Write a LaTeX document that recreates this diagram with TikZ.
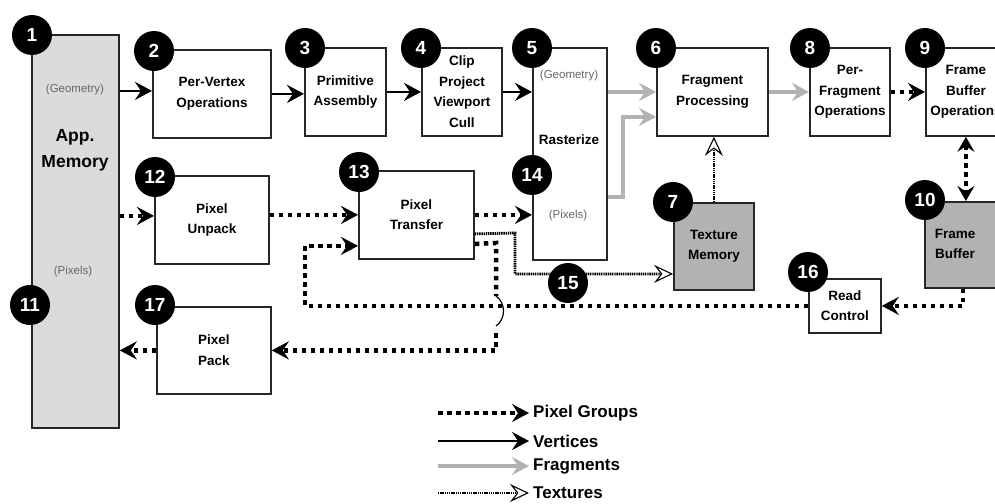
\documentclass[tikz,border=0pt]{standalone}
\usepackage{fontspec}
\setmainfont{Liberation Sans}
\usetikzlibrary{arrows.meta}
\tikzset{
 boxfont/.style={font=\bfseries\fontsize{13.5}{20.5}\selectfont},
 box/.style={draw=black!85, line width=1.8pt, fill=white, align=center, inner sep=0pt, boxfont, anchor=north west},
 graybox/.style={box, fill=black!30},
 membox/.style={box, fill=black!14},
 badge/.style={circle, fill=black, minimum size=40pt, inner sep=0pt, text=white, font=\bfseries\fontsize{19}{19}\selectfont},
 small/.style={text=black!60, font=\fontsize{11.5}{12}\selectfont},
 pixline/.style={line width=4.5pt, dash pattern=on 4.5pt off 4.5pt},
 pix/.style={pixline, -{Stealth[length=17pt,width=18pt,inset=6pt]}},
 pixboth/.style={pixline, {Stealth[length=15pt,width=17pt,inset=5.5pt]}-{Stealth[length=15pt,width=17pt,inset=5.5pt]}},
 vert/.style={line width=2.8pt, -{Stealth[length=17pt,width=18pt,inset=6pt]}},
 frag/.style={line width=3.8pt, draw=black!30, -{Stealth[length=17pt,width=18pt,inset=6pt]}},
 tex/.style={line width=2.8pt, dash pattern=on 1.4pt off 0.8pt, -{Stealth[fill=white,length=19pt,width=18pt,inset=7pt,line width=1.1pt]}},
 legfont/.style={font=\bfseries\fontsize{17}{17}\selectfont, anchor=west, inner sep=0pt},
}
\begin{document}
\begin{tikzpicture}[x=1pt,y=-1pt]
\useasboundingbox (0,0) rectangle (995,503);
\clip (0,0) rectangle (995,503);

% boxes
\node[membox, minimum width=87pt, minimum height=393pt] (b1) at (31,34) {};
\node[small] (g1) at (75,90) {(Geometry)};
\node[font=\bfseries\fontsize{17.5}{26}\selectfont, align=center] (am) at (75,150) {App.\\Memory};
\node[small] (p1) at (73,272) {(Pixels)};

\node[box, minimum width=118pt, minimum height=88pt] (b2) at (152,49) {Per-Vertex\\Operations};
\node[box, minimum width=81pt, minimum height=88pt] (b3) at (304,47) {Primitive\\Assembly};
\node[box, minimum width=80pt, minimum height=88pt] (b4) at (421,47) {Clip\\Project\\Viewport\\Cull};
\node[box, minimum width=74pt, minimum height=212pt] (b5) at (532,47) {};
\node[small] (g5) at (569,76) {(Geometry)};
\node[boxfont] (r5) at (569,140) {Rasterize};
\node[small] (p5) at (568,216) {(Pixels)};
\node[box, minimum width=111pt, minimum height=88pt] (b6) at (656,47) {Fragment\\Processing};
\node[box, minimum width=80pt, minimum height=88pt] (b8) at (809,47) {Per-\\Fragment\\Operations};
\node[box, minimum width=80pt, minimum height=88pt] (b9) at (925,47) {Frame\\Buffer\\Operations};
\node[graybox, minimum width=86pt, minimum height=86pt] (b10) at (924,201) {};
\node[boxfont, align=center] (t10) at (955,244) {Frame\\Buffer};
\node[graybox, minimum width=80pt, minimum height=87pt] (b7) at (673,202) {Texture\\Memory};
\node[box, minimum width=114pt, minimum height=88pt] (b12) at (154,175) {Pixel\\Unpack};
\node[box, minimum width=115pt, minimum height=88pt] (b13) at (358,170) {Pixel\\Transfer};
\node[box, minimum width=72pt, minimum height=54pt] (b16) at (808,278) {Read\\Control};
\node[box, minimum width=114pt, minimum height=87pt] (b17) at (156,306) {Pixel\\Pack};

% vertices
\draw[vert] ([yshift=3pt]b2.west -| b1.east) -- ([yshift=3pt]b2.west);
\draw[vert] (b2.east) -- (b2.east -| b3.west);
\draw[vert] (b3.east) -- (b4.west);
\draw[vert] (b4.east) -- (b4.east -| b5.west);

% fragments
\coordinate (f2) at (623,197);
\draw[frag] (b6.west -| b5.east) -- (b6.west);
\draw[frag] (f2 -| b5.east) -- (f2) |- ([yshift=-25pt]b6.west);
\draw[frag] (b6.east) -- (b8.west);

% pixel groups
\draw[pix] (b8.east) -- (b9.west);
\draw[pixboth] (b9.south) -- (b9.south |- b10.north);
\draw[pix] ([xshift=-5pt]b10.south) |- (b16.east);
\coordinate (lp) at (305,307);
\draw[pix] (b16.west) -- (b16.west -| lp) |- ([yshift=-31pt]b13.west);
\draw[pix] ([yshift=4pt]b12.west -| b1.east) -- ([yshift=4pt]b12.west);
\draw[pix] (b12.east |- b13.west) -- (b13.west);
\draw[pix] (b13.east) -- (b13.east -| b5.west);
\coordinate (hA) at (496,243);
\coordinate (hp1) at (496,296);
\coordinate (hp2) at (496,326);
\coordinate (hB) at (496,333);
\draw[pixline] ([yshift=-29pt]b13.east) -- (hA) -- (hp1);
\draw[line width=1.2pt] (hp1) .. controls (506,303) and (506,319) .. (hp2);
\draw[pix] (hB) |- (b17.east);
\draw[pix] (b17.west) -- (b17.west -| b1.east);

% textures
\coordinate (t1) at (515,233);
\draw[tex] ([yshift=-19pt]b13.east) -- (t1) |- ([yshift=-27.5pt]b7.west);
\draw[tex] (b7.north) -- (b7.north |- b6.south);

% badges
\node[badge] (n1) at (32,35) {1};
\node[badge] (n2) at (154,51) {2};
\node[badge] (n3) at (305,48) {3};
\node[badge] (n4) at (421,48) {4};
\node[badge] (n5) at (532,48) {5};
\node[badge] (n6) at (656,48) {6};
\node[badge] (n8) at (810,48) {8};
\node[badge] (n9) at (925,48) {9};
\node[badge] (n10) at (925,200) {10};
\node[badge] (n7) at (673,202) {7};
\node[badge] (n14) at (532,175) {14};
\node[badge] (n11) at (30,305) {11};
\node[badge] (n12) at (155,177) {12};
\node[badge] (n13) at (359,172) {13};
\node[badge] (n17) at (155,305) {17};
\node[badge] (n16) at (808,272) {16};
\node[badge] (n15) at (568,283) {15};

% legend
\coordinate (la1) at (438,413); \coordinate (lb1) at (529,413);
\coordinate (la2) at (438,441); \coordinate (lb2) at (529,441);
\coordinate (la3) at (438,466); \coordinate (lb3) at (529,466);
\coordinate (la4) at (438,493); \coordinate (lb4) at (529,493);
\draw[pix] (la1) -- (lb1);
\draw[vert] (la2) -- (lb2);
\draw[frag] (la3) -- (lb3);
\draw[tex] (la4) -- (lb4);
\node[legfont] (lt1) at (533,413) {Pixel Groups};
\node[legfont] (lt2) at (533,441) {Vertices};
\node[legfont] (lt3) at (533,466) {Fragments};
\node[legfont] (lt4) at (533,493) {Textures};
\end{tikzpicture}
\end{document}
